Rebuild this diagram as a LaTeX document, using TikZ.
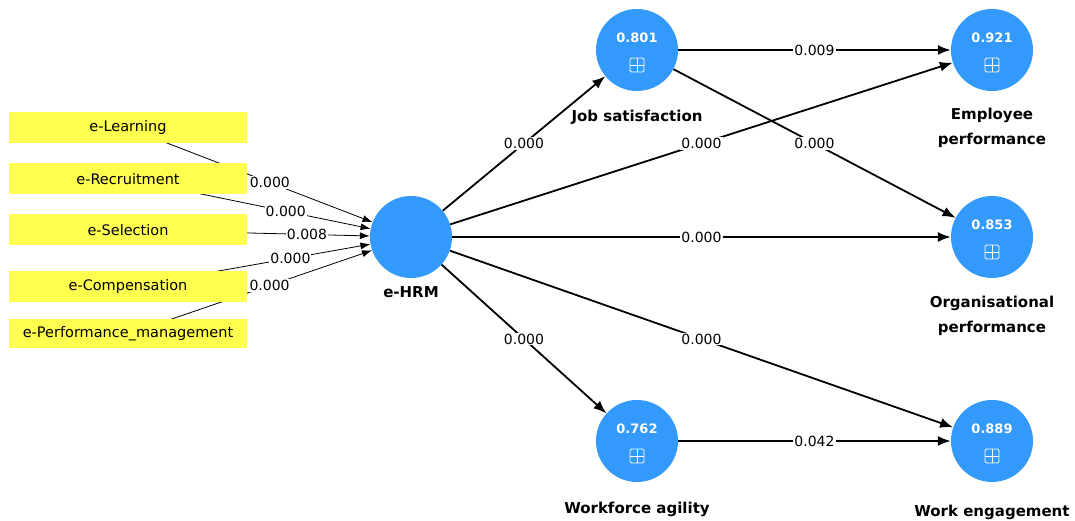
\documentclass[tikz,border=0pt]{standalone}
\usepackage{fontspec}
\setmainfont{DejaVu Sans}
\usetikzlibrary{arrows.meta,backgrounds}

\definecolor{lvblue}{RGB}{51,153,250}
\definecolor{mvyellow}{RGB}{255,255,80}

\begin{document}
\begin{tikzpicture}[x=1pt,y=1pt,
    lv/.style={circle,fill=lvblue,minimum size=82pt,inner sep=0pt},
    mv/.style={rectangle,fill=mvyellow,minimum width=238pt,minimum height=31pt,inner sep=0pt,font=\fontsize{14.5}{16}\selectfont},
    rsq/.style={text=white,inner sep=0pt,font=\bfseries\fontsize{13}{15}\selectfont},
    expand/.style={draw=white,line width=0.9pt,rounded corners=1.5pt,minimum size=14pt,inner sep=0pt,
      path picture={\draw[white,line width=0.9pt] (path picture bounding box.north) -- (path picture bounding box.south)
        (path picture bounding box.west) -- (path picture bounding box.east);}},
    lvname/.style={inner sep=0pt,align=center,font=\bfseries\fontsize{15}{25}\selectfont},
    structural/.style={-{Latex[length=13pt,width=10pt]},line width=1.8pt},
    weight/.style={-{Latex[length=10pt,width=7pt]},line width=0.8pt},
    coef/.style={fill=white,inner sep=1pt,font=\fontsize{14}{16}\selectfont}]
  \useasboundingbox (0,0) rectangle (1075,521);

  % indicators
  \node[mv] (learn) at (128,393) {e-Learning};
  \node[mv] (recruit) at (128,342) {e-Recruitment};
  \node[mv] (select) at (128,291) {e-Selection};
  \node[mv] (comp) at (128,234) {e-Compensation};
  \node[mv,minimum height=29pt] (perf) at (128,187) {e-Performance\_management};

  % latent variables
  \node[lv] (ehrm) at (411,284) {};
  \node[lv] (js) at (637,471) {};
  \node[lv] (ep) at (992,471) {};
  \node[lv] (op) at (992,284) {};
  \node[lv] (wa) at (637,80) {};
  \node[lv] (we) at (992,80) {};

  % R-square values and expand icons
  \node[rsq] (js-r) at ([yshift=12]js.center) {0.801};
  \node[rsq] (ep-r) at ([yshift=12]ep.center) {0.921};
  \node[rsq] (op-r) at ([yshift=12]op.center) {0.853};
  \node[rsq] (wa-r) at ([yshift=12]wa.center) {0.762};
  \node[rsq] (we-r) at ([yshift=12]we.center) {0.889};
  \node[expand] (js-x) at ([yshift=-15]js.center) {};
  \node[expand] (ep-x) at ([yshift=-15]ep.center) {};
  \node[expand] (op-x) at ([yshift=-15]op.center) {};
  \node[expand] (wa-x) at ([yshift=-15]wa.center) {};
  \node[expand] (we-x) at ([yshift=-15]we.center) {};

  % names
  \node[lvname] (ehrm-n) at (411,229) {e-HRM};
  \node[lvname] (js-n) at (637,404) {Job satisfaction};
  \node[lvname] (ep-n) at (992,393) {Employee\\performance};
  \node[lvname] (op-n) at (992,205) {Organisational\\performance};
  \node[lvname] (wa-n) at (637,12) {Workforce agility};
  \node[lvname] (we-n) at (992,9) {Work engagement};

  \begin{pgfonlayer}{background}
    % outer weights
    \draw[weight] (learn.center) -- (ehrm) node[coef,pos=0.58] (w1) {0.000};
    \draw[weight] (recruit.center) -- (ehrm) node[coef,pos=0.65] (w2) {0.000};
    \draw[weight] (select.center) -- (ehrm) node[coef,pos=0.74] (w3) {0.008};
    \draw[weight] (comp.center) -- (ehrm) node[coef,pos=0.67] (w4) {0.000};
    \draw[weight] (perf.center) -- (ehrm) node[coef,pos=0.58] (w5) {0.000};
    % path coefficients
    \draw[structural] (ehrm) -- (js) node[coef,midway] (p1) {0.000};
    \draw[structural] (ehrm) -- (ep) node[coef,midway] (p2) {0.000};
    \draw[structural] (ehrm) -- (op) node[coef,midway] (p3) {0.000};
    \draw[structural] (ehrm) -- (wa) node[coef,midway] (p4) {0.000};
    \draw[structural] (ehrm) -- (we) node[coef,midway] (p5) {0.000};
    \draw[structural] (js) -- (ep) node[coef,midway] (p6) {0.009};
    \draw[structural] (js) -- (op) node[coef,midway] (p7) {0.000};
    \draw[structural] (wa) -- (we) node[coef,midway] (p8) {0.042};
  \end{pgfonlayer}
\end{tikzpicture}
\end{document}
